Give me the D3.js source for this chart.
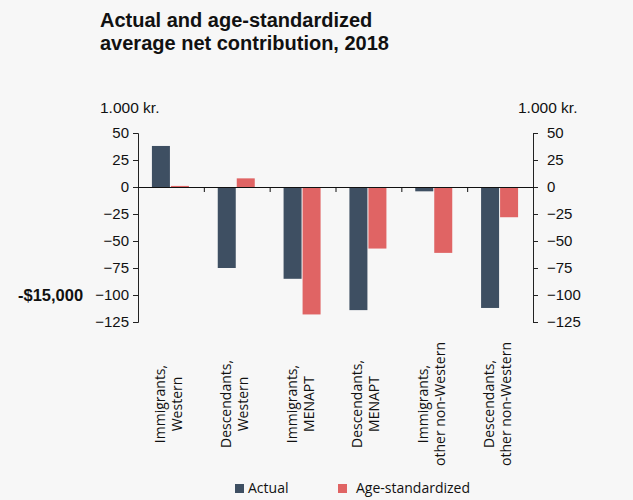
<!DOCTYPE html>
<html>
<head>
<meta charset="utf-8">
<script src="https://cdn.jsdelivr.net/npm/d3@7"></script>
<style>
  body { margin: 0; background: #f7f7f7; }
  svg { display: block; }
</style>
</head>
<body>
<div id="chart"></div>
<script>
const categories = [
  ["Immigrants,", "Western"],
  ["Descendants,", "Western"],
  ["Immigrants,", "MENAPT"],
  ["Descendants,", "MENAPT"],
  ["Immigrants,", "other non-Western"],
  ["Descendants,", "other non-Western"],
];
const actual = [38, -75, -85, -114, -4, -112];
const ageStandardized = [1, 8, -118, -57, -61, -28];
const seriesNames = ["Actual", "Age-standardized"];
const yTicks = [50, 25, 0, -25, -50, -75, -100, -125];

const width = 633,
  height = 500,
  plotLeft = 138,
  plotRight = 533,
  plotTop = 133,
  plotBottom = 322;

const colors = ["#3e4f62", "#e06464"];

const svg = d3
  .select("#chart")
  .append("svg")
  .attr("width", width)
  .attr("height", height);

svg.append("rect").attr("width", width).attr("height", height).attr("fill", "#f7f7f7");

const x = d3
  .scaleBand()
  .domain(d3.range(categories.length))
  .range([plotLeft, plotRight]);

const y = d3.scaleLinear().domain([50, -125]).range([plotTop, plotBottom]);

const barW = 19;

// title
const title = svg
  .append("text")
  .style("font-family", "Liberation Sans, Arial, sans-serif")
  .style("font-weight", "bold")
  .style("font-size", "20px")
  .attr("fill", "#111");
title.append("tspan").attr("x", 100).attr("y", 27).text("Actual and age-standardized");
title.append("tspan").attr("x", 100).attr("y", 50).text("average net contribution, 2018");

// units
svg
  .selectAll(".unit")
  .data([100, 518])
  .join("text")
  .attr("class", "unit")
  .attr("x", (d) => d)
  .attr("y", 113)
  .style("font-family", "Liberation Sans, Arial, sans-serif")
  .style("font-size", "15.5px")
  .attr("fill", "#111")
  .text("1.000 kr.");

// y axes
const styleAxis = (g) => {
  g.select(".domain").attr("stroke", "#222");
  g.selectAll(".tick line").attr("stroke", "#222");
  g.selectAll(".tick text")
    .style("font-family", "Liberation Sans, Arial, sans-serif")
    .style("font-size", "15px")
    .attr("fill", "#111");
};

svg
  .append("g")
  .attr("transform", `translate(${plotLeft},0)`)
  .call(d3.axisLeft(y).tickValues(yTicks).tickSize(5).tickSizeOuter(5).tickPadding(4))
  .call(styleAxis);

svg
  .append("g")
  .attr("transform", `translate(${plotRight},0)`)
  .call(d3.axisRight(y).tickValues(yTicks).tickSize(5).tickSizeOuter(5).tickPadding(9))
  .call(styleAxis);

// bars
const groups = svg
  .selectAll(".grp")
  .data(categories)
  .join("g")
  .attr("class", "grp");

groups
  .append("rect")
  .attr("x", (d, i) => x(i) + x.bandwidth() / 2 - barW)
  .attr("width", barW - 1)
  .attr("y", (d, i) => y(Math.max(0, actual[i])))
  .attr("height", (d, i) => Math.abs(y(actual[i]) - y(0)))
  .attr("fill", colors[0]);

groups
  .append("rect")
  .attr("x", (d, i) => x(i) + x.bandwidth() / 2)
  .attr("width", barW - 1)
  .attr("y", (d, i) => y(Math.max(0, ageStandardized[i])))
  .attr("height", (d, i) => Math.abs(y(ageStandardized[i]) - y(0)))
  .attr("fill", colors[1]);

// zero line with category ticks
const xAxis = svg
  .append("g")
  .attr("transform", `translate(0,${y(0)})`)
  .call(
    d3
      .axisBottom(d3.scaleLinear().domain([plotLeft, plotRight]).range([plotLeft, plotRight]))
      .tickValues(d3.range(1, categories.length).map((i) => x(i)))
      .tickSize(5)
      .tickSizeOuter(0)
      .tickFormat("")
  );
xAxis.select(".domain").attr("stroke", "#111");
xAxis.selectAll(".tick line").attr("stroke", "#111");

// category labels
const labels = svg
  .selectAll(".cat")
  .data(categories)
  .join("text")
  .attr("class", "cat")
  .attr("text-anchor", "middle")
  .attr("transform", (d, i) => `translate(${x(i) + x.bandwidth() / 2 - 6},404) rotate(-90)`)
  .style("font-family", "Open Sans, sans-serif")
  .style("font-size", "14px")
  .attr("fill", "#111");
labels
  .selectAll("tspan")
  .data((d) => d)
  .join("tspan")
  .attr("x", 0)
  .attr("y", (d, i) => i * 17)
  .text((d) => d);

// -$15,000 annotation
svg
  .append("text")
  .attr("x", 18)
  .attr("y", 301)
  .style("font-family", "Liberation Sans, Arial, sans-serif")
  .style("font-weight", "bold")
  .style("font-size", "16.5px")
  .attr("fill", "#111")
  .text("-$15,000");

// legend
const legendX = [235, 338];
const legend = svg
  .selectAll(".leg")
  .data(seriesNames)
  .join("g")
  .attr("class", "leg")
  .attr("transform", (d, i) => `translate(${legendX[i]},484)`);
legend
  .append("rect")
  .attr("width", 9)
  .attr("height", 9)
  .attr("fill", (d, i) => colors[i]);
legend
  .append("text")
  .attr("x", (d, i) => (i === 0 ? 13 : 18))
  .attr("y", 9)
  .style("font-family", "Open Sans, sans-serif")
  .style("font-size", "14px")
  .attr("fill", "#111")
  .text((d) => d);
</script>
</body>
</html>
